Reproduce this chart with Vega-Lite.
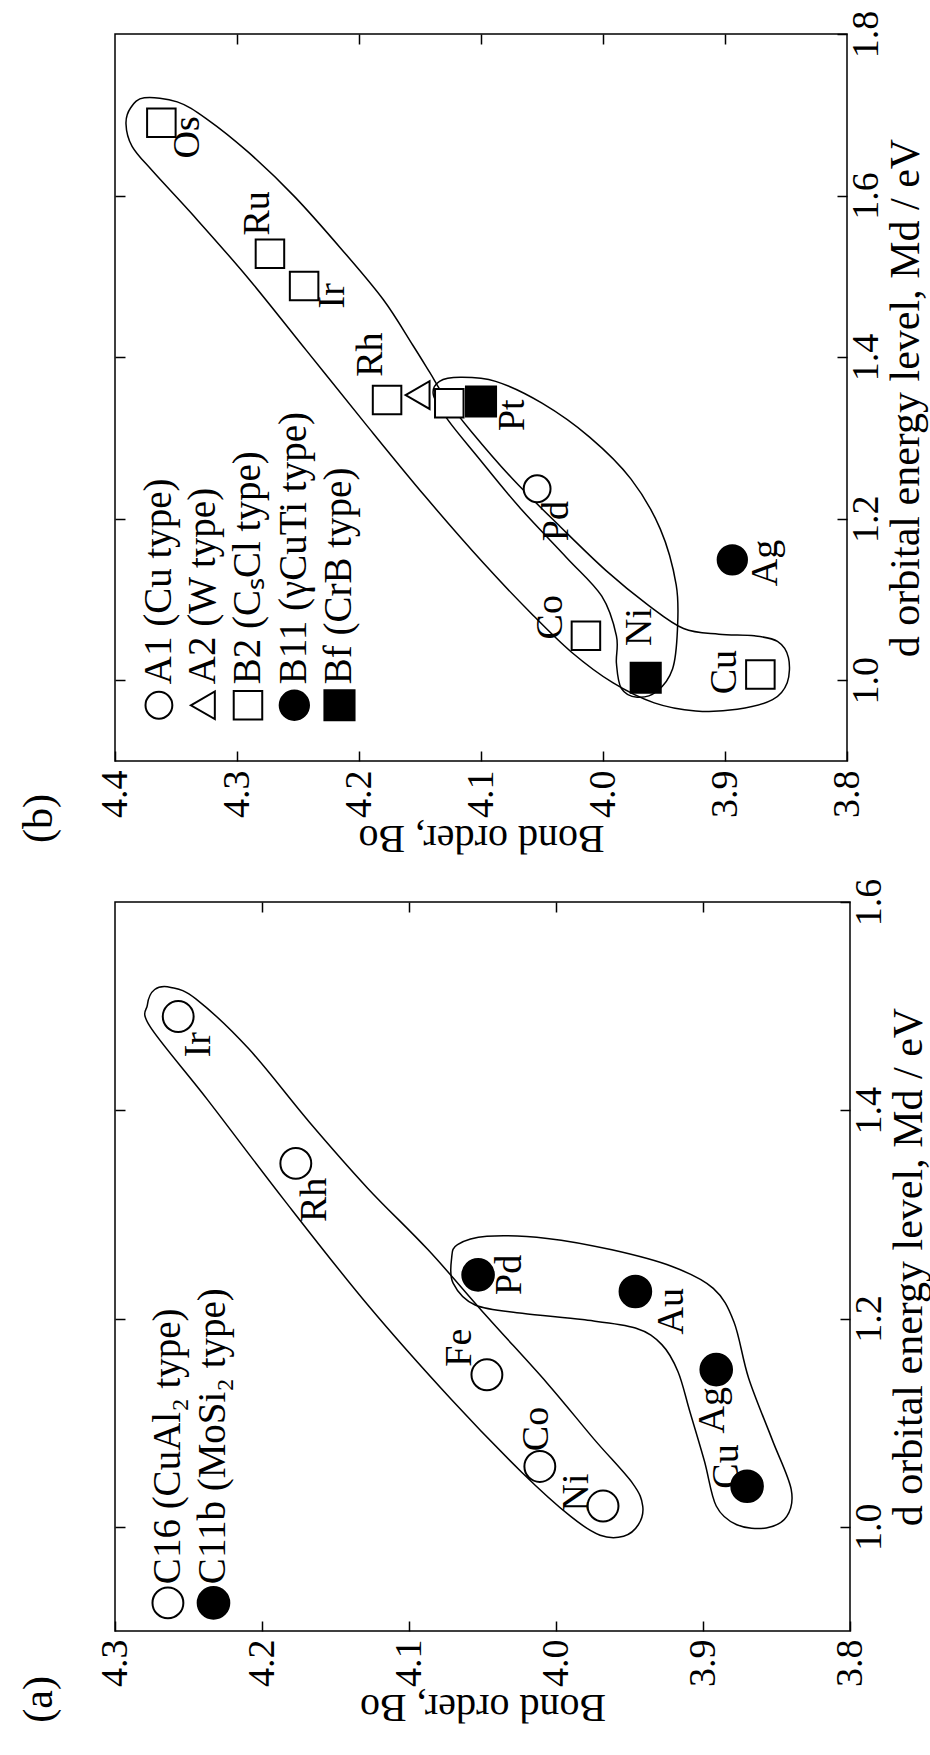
{
  "$schema": "https://vega.github.io/schema/vega-lite/v6.json",
  "background": "white",
  "padding": {"left": 17, "top": 9, "right": 0, "bottom": 0},
  "spacing": 18,
  "config": {
    "view": {"stroke": "black", "strokeWidth": 1.5},
    "font": "Liberation Serif",
    "axis": {"labelFont": "Liberation Serif", "titleFont": "Liberation Serif", "labelFontSize": 38, "titleFontSize": 42, "titleFontWeight": "normal", "labelColor": "black", "titleColor": "black", "tickColor": "black", "tickWidth": 1.5, "tickSize": -10, "grid": false, "domain": false, "labelFlush": false, "labelOverlap": false},
    "title": {"font": "Liberation Serif", "fontSize": 42, "fontWeight": "normal", "color": "black"}
  },
  "datasets": {
    "b_curves": [
      {"c":"b1","i":1,"Bo":4.376,"Md":1.721},{"c":"b1","i":2,"Bo":4.387,"Md":1.709},{"c":"b1","i":3,"Bo":4.391,"Md":1.689},{"c":"b1","i":4,"Bo":4.386,"Md":1.661},{"c":"b1","i":5,"Bo":4.369,"Md":1.630},{"c":"b1","i":6,"Bo":4.335,"Md":1.574},{"c":"b1","i":7,"Bo":4.291,"Md":1.498},{"c":"b1","i":8,"Bo":4.243,"Md":1.408},{"c":"b1","i":9,"Bo":4.195,"Md":1.318},{"c":"b1","i":10,"Bo":4.146,"Md":1.228},{"c":"b1","i":11,"Bo":4.098,"Md":1.145},{"c":"b1","i":12,"Bo":4.059,"Md":1.083},{"c":"b1","i":13,"Bo":4.026,"Md":1.035},{"c":"b1","i":14,"Bo":3.992,"Md":0.997},{"c":"b1","i":15,"Bo":3.958,"Md":0.972},{"c":"b1","i":16,"Bo":3.924,"Md":0.962},{"c":"b1","i":17,"Bo":3.890,"Md":0.964},{"c":"b1","i":18,"Bo":3.861,"Md":0.976},{"c":"b1","i":19,"Bo":3.849,"Md":0.997},{"c":"b1","i":20,"Bo":3.848,"Md":1.028},{"c":"b1","i":21,"Bo":3.857,"Md":1.048},{"c":"b1","i":22,"Bo":3.876,"Md":1.055},{"c":"b1","i":23,"Bo":3.905,"Md":1.057},{"c":"b1","i":24,"Bo":3.934,"Md":1.064},{"c":"b1","i":25,"Bo":3.963,"Md":1.093},{"c":"b1","i":26,"Bo":3.997,"Md":1.135},{"c":"b1","i":27,"Bo":4.035,"Md":1.190},{"c":"b1","i":28,"Bo":4.074,"Md":1.249},{"c":"b1","i":29,"Bo":4.108,"Md":1.308},{"c":"b1","i":30,"Bo":4.129,"Md":1.349},{"c":"b1","i":31,"Bo":4.142,"Md":1.381},{"c":"b1","i":32,"Bo":4.156,"Md":1.415},{"c":"b1","i":33,"Bo":4.180,"Md":1.471},{"c":"b1","i":34,"Bo":4.214,"Md":1.533},{"c":"b1","i":35,"Bo":4.253,"Md":1.599},{"c":"b1","i":36,"Bo":4.291,"Md":1.654},{"c":"b1","i":37,"Bo":4.325,"Md":1.695},{"c":"b1","i":38,"Bo":4.349,"Md":1.716},
      {"c":"b2","i":1,"Bo":4.139,"Md":1.353},{"c":"b2","i":2,"Bo":4.134,"Md":1.370},{"c":"b2","i":3,"Bo":4.117,"Md":1.375},{"c":"b2","i":4,"Bo":4.088,"Md":1.370},{"c":"b2","i":5,"Bo":4.050,"Md":1.343},{"c":"b2","i":6,"Bo":4.011,"Md":1.301},{"c":"b2","i":7,"Bo":3.977,"Md":1.249},{"c":"b2","i":8,"Bo":3.953,"Md":1.187},{"c":"b2","i":9,"Bo":3.940,"Md":1.118},{"c":"b2","i":10,"Bo":3.939,"Md":1.062},{"c":"b2","i":11,"Bo":3.943,"Md":1.014},{"c":"b2","i":12,"Bo":3.956,"Md":0.986},{"c":"b2","i":13,"Bo":3.972,"Md":0.979},{"c":"b2","i":14,"Bo":3.985,"Md":0.990},{"c":"b2","i":15,"Bo":3.989,"Md":1.021},{"c":"b2","i":16,"Bo":3.989,"Md":1.055},{"c":"b2","i":17,"Bo":4.001,"Md":1.104},{"c":"b2","i":18,"Bo":4.030,"Md":1.152},{"c":"b2","i":19,"Bo":4.069,"Md":1.215},{"c":"b2","i":20,"Bo":4.103,"Md":1.277},{"c":"b2","i":21,"Bo":4.127,"Md":1.322}
    ],
    "b_pts": [
      {"el":"Os","type":"B2","Bo":4.362,"Md":1.690},
      {"el":"Ru","type":"B2","Bo":4.273,"Md":1.528},
      {"el":"Ir","type":"B2","Bo":4.245,"Md":1.488},
      {"el":"Rh","type":"B2","Bo":4.177,"Md":1.347},
      {"el":"W-type","type":"A2","Bo":4.152,"Md":1.353},
      {"el":"Pt","type":"B2","Bo":4.126,"Md":1.343},
      {"el":"Pt","type":"Bf","Bo":4.100,"Md":1.345},
      {"el":"Pd","type":"A1","Bo":4.054,"Md":1.237},
      {"el":"Ag","type":"B11","Bo":3.894,"Md":1.149},
      {"el":"Co","type":"B2","Bo":4.014,"Md":1.055},
      {"el":"Ni","type":"Bf","Bo":3.965,"Md":1.003},
      {"el":"Cu","type":"B2","Bo":3.871,"Md":1.007}
    ],
    "b_lab": [
      {"t":"Os","Bo":4.340,"Md":1.672},{"t":"Ru","Bo":4.283,"Md":1.578},{"t":"Ir","Bo":4.221,"Md":1.476},{"t":"Rh","Bo":4.190,"Md":1.403},{"t":"Pt","Bo":4.074,"Md":1.328},{"t":"Pd","Bo":4.038,"Md":1.197},{"t":"Ag","Bo":3.866,"Md":1.145},{"t":"Co","Bo":4.043,"Md":1.078},{"t":"Ni","Bo":3.970,"Md":1.066},{"t":"Cu","Bo":3.900,"Md":1.010}
    ],
    "b_leg": [
      {"type":"A1","Bo":4.364,"label":"A1 (Cu type)"},
      {"type":"A2","Bo":4.328,"label":"A2 (W type)"},
      {"type":"B2","Bo":4.291,"label":"B2 (CₛCl type)"},
      {"type":"B11","Bo":4.253,"label":"B11 (γCuTi type)"},
      {"type":"Bf","Bo":4.216,"label":"Bf (CrB type)"}
    ],
    "a_curves": [
      {"c":"a1","i":1,"Bo":4.273,"Md":1.516},{"c":"a1","i":2,"Bo":4.278,"Md":1.501},{"c":"a1","i":3,"Bo":4.276,"Md":1.480},{"c":"a1","i":4,"Bo":4.237,"Md":1.410},{"c":"a1","i":5,"Bo":4.185,"Md":1.314},{"c":"a1","i":6,"Bo":4.128,"Md":1.213},{"c":"a1","i":7,"Bo":4.071,"Md":1.122},{"c":"a1","i":8,"Bo":4.023,"Md":1.052},{"c":"a1","i":9,"Bo":3.990,"Md":1.010},{"c":"a1","i":10,"Bo":3.970,"Md":0.992},{"c":"a1","i":11,"Bo":3.954,"Md":0.991},{"c":"a1","i":12,"Bo":3.944,"Md":1.002},{"c":"a1","i":13,"Bo":3.941,"Md":1.020},{"c":"a1","i":14,"Bo":3.948,"Md":1.042},{"c":"a1","i":15,"Bo":3.974,"Md":1.084},{"c":"a1","i":16,"Bo":4.006,"Md":1.138},{"c":"a1","i":17,"Bo":4.047,"Md":1.202},{"c":"a1","i":18,"Bo":4.087,"Md":1.266},{"c":"a1","i":19,"Bo":4.128,"Md":1.325},{"c":"a1","i":20,"Bo":4.168,"Md":1.389},{"c":"a1","i":21,"Bo":4.209,"Md":1.459},{"c":"a1","i":22,"Bo":4.245,"Md":1.507},{"c":"a1","i":23,"Bo":4.262,"Md":1.518},
      {"c":"a2","i":1,"Bo":4.067,"Md":1.271},{"c":"a2","i":2,"Bo":4.047,"Md":1.279},{"c":"a2","i":3,"Bo":4.006,"Md":1.277},{"c":"a2","i":4,"Bo":3.962,"Md":1.266},{"c":"a2","i":5,"Bo":3.921,"Md":1.250},{"c":"a2","i":6,"Bo":3.893,"Md":1.229},{"c":"a2","i":7,"Bo":3.879,"Md":1.197},{"c":"a2","i":8,"Bo":3.869,"Md":1.143},{"c":"a2","i":9,"Bo":3.853,"Md":1.084},{"c":"a2","i":10,"Bo":3.840,"Md":1.036},{"c":"a2","i":11,"Bo":3.843,"Md":1.010},{"c":"a2","i":12,"Bo":3.857,"Md":0.999},{"c":"a2","i":13,"Bo":3.877,"Md":1.002},{"c":"a2","i":14,"Bo":3.891,"Md":1.020},{"c":"a2","i":15,"Bo":3.899,"Md":1.063},{"c":"a2","i":16,"Bo":3.909,"Md":1.111},{"c":"a2","i":17,"Bo":3.917,"Md":1.149},{"c":"a2","i":18,"Bo":3.928,"Md":1.175},{"c":"a2","i":19,"Bo":3.946,"Md":1.191},{"c":"a2","i":20,"Bo":3.982,"Md":1.199},{"c":"a2","i":21,"Bo":4.023,"Md":1.205},{"c":"a2","i":22,"Bo":4.055,"Md":1.213},{"c":"a2","i":23,"Bo":4.070,"Md":1.234},{"c":"a2","i":24,"Bo":4.071,"Md":1.258}
    ],
    "a_pts": [
      {"el":"Ir","type":"C16","Bo":4.257,"Md":1.490},
      {"el":"Rh","type":"C16","Bo":4.177,"Md":1.349},
      {"el":"Fe","type":"C16","Bo":4.047,"Md":1.146},
      {"el":"Co","type":"C16","Bo":4.011,"Md":1.058},
      {"el":"Ni","type":"C16","Bo":3.968,"Md":1.020},
      {"el":"Pd","type":"C11b","Bo":4.053,"Md":1.242},
      {"el":"Au","type":"C11b","Bo":3.946,"Md":1.226},
      {"el":"Ag","type":"C11b","Bo":3.891,"Md":1.151},
      {"el":"Cu","type":"C11b","Bo":3.870,"Md":1.039}
    ],
    "a_lab": [
      {"t":"Ir","Bo":4.243,"Md":1.463},{"t":"Rh","Bo":4.164,"Md":1.314},{"t":"Fe","Bo":4.065,"Md":1.172},{"t":"Co","Bo":4.013,"Md":1.094},{"t":"Ni","Bo":3.986,"Md":1.033},{"t":"Pd","Bo":4.031,"Md":1.242},{"t":"Au","Bo":3.921,"Md":1.207},{"t":"Ag","Bo":3.893,"Md":1.112},{"t":"Cu","Bo":3.884,"Md":1.058}
    ],
    "a_leg": [
      {"type":"C16","Bo":4.264,"label":"C16 (CuAl₂ type)"},
      {"type":"C11b","Bo":4.233,"label":"C11b (MoSi₂ type)"}
    ]
  },
  "vconcat": [
    {
      "width": 732, "height": 727,
      "title": {"text": "(b)", "orient": "left", "anchor": "start", "frame": "group", "align": "right", "offset": 35, "dx": -33},
      "resolve": {"axis": {"x": "independent", "y": "independent"}},
      "layer": [
        {
          "data": {"name": "b_curves"},
          "mark": {"type": "line", "interpolate": "cardinal-closed", "stroke": "black", "strokeWidth": 1.5},
          "encoding": {
            "x": {"field": "Bo", "type": "quantitative", "scale": {"domain": [3.8, 4.4], "reverse": true, "nice": false, "zero": false},
                  "axis": {"orient": "bottom", "values": [3.8, 3.9, 4.0, 4.1, 4.2, 4.3, 4.4], "format": ".1f", "labelAngle": 270, "labelAlign": "right", "labelBaseline": "middle", "labelPadding": 19, "title": "Bond order, Bo", "titleFontSize": 40, "titleAngle": 180, "titleBaseline": "bottom", "titlePadding": 0}},
            "y": {"field": "Md", "type": "quantitative", "scale": {"domain": [0.9, 1.8], "nice": false, "zero": false},
                  "axis": {"orient": "right", "values": [1.0, 1.2, 1.4, 1.6, 1.8], "format": ".1f", "labelAngle": 270, "labelAlign": "center", "labelBaseline": "top", "labelPadding": 10, "title": "d orbital energy level, Md / eV", "titleAngle": 270, "titleBaseline": "top", "titlePadding": 0}},
            "detail": {"field": "c"},
            "order": {"field": "i", "type": "quantitative"}
          }
        },
        {
          "data": {"name": "b_pts"},
          "mark": {"type": "point", "filled": true, "stroke": "black", "strokeWidth": 2, "opacity": 1},
          "encoding": {
            "x": {"field": "Bo", "type": "quantitative", "axis": {"orient": "top", "values": [3.9, 4.0, 4.1, 4.2, 4.3], "labels": false, "title": null}},
            "y": {"field": "Md", "type": "quantitative", "axis": {"orient": "left", "values": [1.0, 1.2, 1.4, 1.6], "labels": false, "title": null}},
            "shape": {"field": "type", "type": "nominal", "scale": {"domain": ["A1","A2","B2","B11","Bf","C16","C11b"], "range": ["circle","triangle-left","square","circle","square","circle","circle"]}, "legend": null},
            "fill": {"field": "type", "type": "nominal", "scale": {"domain": ["A1","A2","B2","B11","Bf","C16","C11b"], "range": ["white","white","white","black","black","white","black"]}, "legend": null},
            "size": {"field": "type", "type": "nominal", "scale": {"domain": ["A1","A2","B2","B11","Bf","C16","C11b"], "range": [720, 1000, 1000, 720, 1000, 720, 720]}, "legend": null}
          }
        },
        {
          "data": {"name": "b_lab"},
          "mark": {"type": "text", "angle": 270, "fontSize": 38, "align": "center", "baseline": "middle", "color": "black"},
          "encoding": {
            "x": {"field": "Bo", "type": "quantitative", "axis": null},
            "y": {"field": "Md", "type": "quantitative", "axis": null},
            "text": {"field": "t"}
          }
        },
        {
          "data": {"name": "b_leg"},
          "mark": {"type": "point", "filled": true, "stroke": "black", "strokeWidth": 2, "opacity": 1},
          "encoding": {
            "x": {"field": "Bo", "type": "quantitative", "axis": null},
            "y": {"datum": 0.969, "type": "quantitative", "axis": null},
            "shape": {"field": "type", "type": "nominal", "scale": {"domain": ["A1","A2","B2","B11","Bf","C16","C11b"], "range": ["circle","triangle-left","square","circle","square","circle","circle"]}, "legend": null},
            "fill": {"field": "type", "type": "nominal", "scale": {"domain": ["A1","A2","B2","B11","Bf","C16","C11b"], "range": ["white","white","white","black","black","white","black"]}, "legend": null},
            "size": {"field": "type", "type": "nominal", "scale": {"domain": ["A1","A2","B2","B11","Bf","C16","C11b"], "range": [720, 1000, 1000, 720, 1000, 720, 720]}, "legend": null}
          }
        },
        {
          "data": {"name": "b_leg"},
          "mark": {"type": "text", "angle": 270, "fontSize": 39, "align": "left", "baseline": "middle", "color": "black"},
          "encoding": {
            "x": {"field": "Bo", "type": "quantitative", "axis": null},
            "y": {"datum": 0.995, "type": "quantitative", "axis": null},
            "text": {"field": "label"}
          }
        }
      ]
    },
    {
      "width": 735, "height": 729,
      "title": {"text": "(a)", "orient": "left", "anchor": "start", "frame": "group", "align": "right", "offset": 35, "dx": -45},
      "resolve": {"axis": {"x": "independent", "y": "independent"}},
      "layer": [
        {
          "data": {"name": "a_curves"},
          "mark": {"type": "line", "interpolate": "cardinal-closed", "stroke": "black", "strokeWidth": 1.5},
          "encoding": {
            "x": {"field": "Bo", "type": "quantitative", "scale": {"domain": [3.8, 4.3], "reverse": true, "nice": false, "zero": false},
                  "axis": {"orient": "bottom", "values": [3.8, 3.9, 4.0, 4.1, 4.2, 4.3], "format": ".1f", "labelAngle": 270, "labelAlign": "right", "labelBaseline": "middle", "labelPadding": 18, "title": "Bond order, Bo", "titleFontSize": 40, "titleAngle": 180, "titleBaseline": "bottom", "titlePadding": 0}},
            "y": {"field": "Md", "type": "quantitative", "scale": {"domain": [0.9, 1.6], "nice": false, "zero": false},
                  "axis": {"orient": "right", "values": [1.0, 1.2, 1.4, 1.6], "format": ".1f", "labelAngle": 270, "labelAlign": "center", "labelBaseline": "top", "labelPadding": 10, "title": "d orbital energy level, Md / eV", "titleAngle": 270, "titleBaseline": "top", "titlePadding": 0}},
            "detail": {"field": "c"},
            "order": {"field": "i", "type": "quantitative"}
          }
        },
        {
          "data": {"name": "a_pts"},
          "mark": {"type": "point", "filled": true, "stroke": "black", "strokeWidth": 2, "opacity": 1},
          "encoding": {
            "x": {"field": "Bo", "type": "quantitative", "axis": {"orient": "top", "values": [3.9, 4.0, 4.1, 4.2], "labels": false, "title": null}},
            "y": {"field": "Md", "type": "quantitative", "axis": {"orient": "left", "values": [1.0, 1.2, 1.4], "labels": false, "title": null}},
            "shape": {"field": "type", "type": "nominal", "scale": {"domain": ["A1","A2","B2","B11","Bf","C16","C11b"], "range": ["circle","triangle-left","square","circle","square","circle","circle"]}, "legend": null},
            "fill": {"field": "type", "type": "nominal", "scale": {"domain": ["A1","A2","B2","B11","Bf","C16","C11b"], "range": ["white","white","white","black","black","white","black"]}, "legend": null},
            "size": {"field": "type", "type": "nominal", "scale": {"domain": ["A1","A2","B2","B11","Bf","C16","C11b"], "range": [720, 1000, 1000, 720, 1000, 720, 720]}, "legend": null}
          }
        },
        {
          "data": {"name": "a_lab"},
          "mark": {"type": "text", "angle": 270, "fontSize": 38, "align": "center", "baseline": "middle", "color": "black"},
          "encoding": {
            "x": {"field": "Bo", "type": "quantitative", "axis": null},
            "y": {"field": "Md", "type": "quantitative", "axis": null},
            "text": {"field": "t"}
          }
        },
        {
          "data": {"name": "a_leg"},
          "mark": {"type": "point", "filled": true, "stroke": "black", "strokeWidth": 2, "opacity": 1},
          "encoding": {
            "x": {"field": "Bo", "type": "quantitative", "axis": null},
            "y": {"datum": 0.927, "type": "quantitative", "axis": null},
            "shape": {"field": "type", "type": "nominal", "scale": {"domain": ["A1","A2","B2","B11","Bf","C16","C11b"], "range": ["circle","triangle-left","square","circle","square","circle","circle"]}, "legend": null},
            "fill": {"field": "type", "type": "nominal", "scale": {"domain": ["A1","A2","B2","B11","Bf","C16","C11b"], "range": ["white","white","white","black","black","white","black"]}, "legend": null},
            "size": {"field": "type", "type": "nominal", "scale": {"domain": ["A1","A2","B2","B11","Bf","C16","C11b"], "range": [720, 1000, 1000, 720, 1000, 720, 720]}, "legend": null}
          }
        },
        {
          "data": {"name": "a_leg"},
          "mark": {"type": "text", "angle": 270, "fontSize": 39, "align": "left", "baseline": "middle", "color": "black"},
          "encoding": {
            "x": {"field": "Bo", "type": "quantitative", "axis": null},
            "y": {"datum": 0.945, "type": "quantitative", "axis": null},
            "text": {"field": "label"}
          }
        }
      ]
    }
  ]
}
